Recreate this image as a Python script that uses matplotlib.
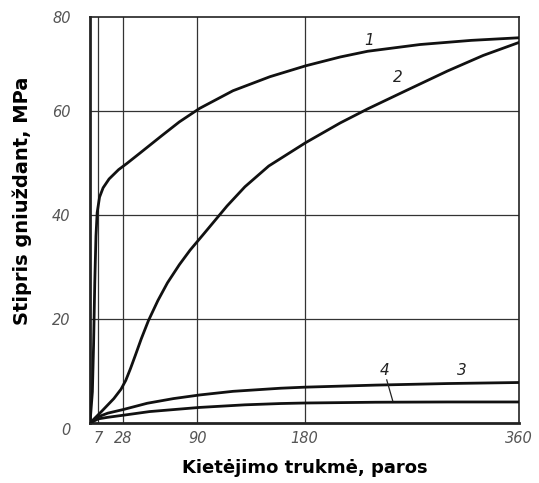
import matplotlib
matplotlib.use("Agg")
import matplotlib.pyplot as plt

# Data
x1 = [0, 2, 3, 4, 5, 6, 8, 11, 16, 24, 31, 42, 60, 75, 92, 120, 151, 181, 210, 233, 277, 320, 360]
y1 = [0, 6, 15, 27, 36, 40.5, 43.5, 45.3, 47, 48.8, 50, 52, 55.3, 58, 60.6, 64, 66.7, 68.8, 70.5, 71.6, 72.9, 73.7, 74.2]

x2 = [0, 10, 20, 26, 30, 34, 38, 43, 49, 57, 65, 75, 84, 95, 103, 115, 130, 150, 181, 210, 233, 265, 300, 330, 360]
y2 = [0, 2.3, 4.7, 6.5, 8.2, 10.5, 13, 16.2, 19.7, 23.6, 27, 30.5, 33.3, 36.3, 38.5, 41.8, 45.5, 49.5, 54, 57.8, 60.5, 64, 67.8, 70.8, 73.3]

x3 = [0, 7, 15, 28, 48, 70, 92, 120, 160, 180, 240, 300, 360]
y3 = [0, 1.2, 1.9, 2.6, 3.8, 4.7, 5.4, 6.1, 6.7, 6.9, 7.3, 7.6, 7.8]

x4 = [0, 7, 15, 28, 50, 92, 130, 160, 180, 240, 300, 360]
y4 = [0, 0.8, 1.1, 1.5, 2.2, 3.0, 3.5, 3.75, 3.85, 4.0, 4.05, 4.05]

xticks = [7, 28, 90, 180, 360]
yticks = [0, 20, 40, 60]
ytick_labels = ["0", "20", "40", "60"]

fig = plt.figure(figsize=(5.39, 4.83), dpi=100)
ax = fig.add_axes([90/539, 1-423/483, (519-90)/539, (423-17)/483])
ax.set_xlim(0, 360)
ax.set_ylim(0, 78.2)

for x in xticks[:-1]:
    ax.axvline(x, color="#333333", lw=0.9, zorder=1)
for y in yticks[1:]:
    ax.axhline(y, color="#333333", lw=0.9, zorder=1)

for xs, ys in [(x1, y1), (x2, y2), (x3, y3), (x4, y4)]:
    ax.plot(xs, ys, color="#111111", lw=2.0, zorder=3, solid_capstyle="round", solid_joinstyle="round")

for s in ax.spines.values():
    s.set_color("#222222")
    s.set_linewidth(1.2)
ax.spines["left"].set_linewidth(2.0)
ax.spines["bottom"].set_linewidth(2.0)

tick_font = dict(style="italic", color="#555555", fontsize=10.5)
ax.set_xticks(xticks)
ax.set_xticklabels([str(v) for v in xticks], **tick_font)
ax.set_yticks(yticks + [78.2])
ax.set_yticklabels(ytick_labels + ["80"], **tick_font)
ax.tick_params(axis="x", length=0, pad=6)
ax.tick_params(axis="y", length=0, pad=14)
ax.get_yticklabels()[0].set_va("top")

ax.text(234, 73.6, "1", style="italic", fontsize=11, ha="center", va="center", color="#222222")
ax.text(258, 66.5, "2", style="italic", fontsize=11, ha="center", va="center", color="#222222")
ax.text(312, 10.2, "3", style="italic", fontsize=11, ha="center", va="center", color="#222222")
ax.text(247, 10.2, "4", style="italic", fontsize=11, ha="center", va="center", color="#222222")
ax.plot([249, 254], [8.3, 4.3], color="#222222", lw=0.9, zorder=4)

ax.set_xlabel("Kietėjimo trukmė, paros", fontsize=13, fontweight="bold", labelpad=9)
ax.set_ylabel("Stipris gniuždant, MPa", fontsize=14, fontweight="bold")
ax.yaxis.set_label_coords(-0.135, 0.547)

fig.savefig("out.png", dpi=100)
